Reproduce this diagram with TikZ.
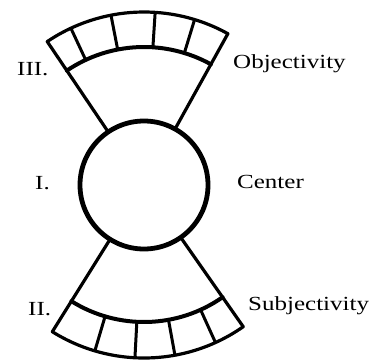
\documentclass[tikz,border=0pt]{standalone}
\usepackage{graphicx}
\usepackage{fontspec}
\setmainfont{Liberation Serif}
\begin{document}
\begin{tikzpicture}[x=1pt,y=1pt,
  lbl/.style={anchor=base west, inner sep=0pt, font=\fontsize{20}{24}\selectfont},
  rim/.style={line width=3.2pt, line join=round, line cap=round},
  band/.style={line width=4pt, line cap=round},
  divider/.style={line width=3pt},
  ring/.style={line width=4.8pt}]
\useasboundingbox (0,0) rectangle (378,360);
\coordinate (C) at (144,175);
% top fan (Objectivity)
\draw[rim] ([shift={(124:64)}]C) -- ([shift={(124:173)}]C)
  arc[start angle=124, end angle=61, radius=173] -- ([shift={(61:64)}]C);
\draw[band] ([shift={(124:138)}]C) arc[start angle=124, end angle=61, radius=138];
\foreach \a in {115,101,86.3,73}
  \draw[divider] ([shift={(\a:138)}]C) -- ([shift={(\a:173)}]C);
% bottom fan (Subjectivity)
\draw[rim] ([shift={(238:64)}]C) -- ([shift={(238:173)}]C)
  arc[start angle=238, end angle=305, radius=173] -- ([shift={(305:64)}]C);
\draw[band] ([shift={(238:137)}]C) arc[start angle=238, end angle=305, radius=137];
\foreach \a in {253.5,267,280.3,294.4}
  \draw[divider] ([shift={(\a:137)}]C) -- ([shift={(\a:173)}]C);
% center circle
\node[ring, draw, fill=white, circle, minimum size=128pt, inner sep=0pt] (center) at (C) {};
% labels
\node[lbl] (III) at (17,285) {\scalebox{1.25}[1]{III.}};
\node[lbl] (I) at (35,171) {\scalebox{1.25}[1]{I.}};
\node[lbl] (II) at (28,45) {\scalebox{1.25}[1]{II.}};
\node[lbl] (obj) at (233,292) {\scalebox{1.25}[1]{Objectivity}};
\node[lbl] (cen) at (237,172) {\scalebox{1.25}[1]{Center}};
\node[lbl] (sub) at (248,50) {\scalebox{1.25}[1]{Subjectivity}};
\end{tikzpicture}
\end{document}
